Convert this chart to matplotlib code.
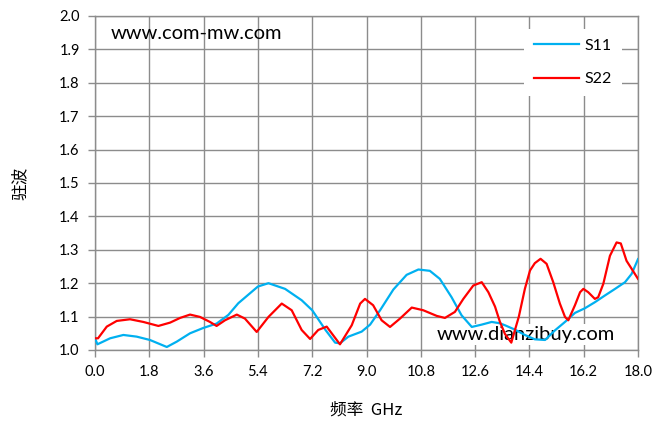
import matplotlib.pyplot as plt

# S11 readings (frequency GHz, VSWR)
s11_freq = [0.0, 0.08, 0.5, 0.94, 1.38, 1.82, 2.38, 2.71, 3.15, 3.59, 4.03, 4.42,
            4.75, 5.4, 5.75, 6.3, 6.85, 7.2, 7.64, 7.96, 8.12, 8.4, 8.84, 9.12,
            9.45, 9.89, 10.33, 10.72, 11.1, 11.43, 11.82, 12.15, 12.49, 12.82,
            13.15, 13.42, 13.59, 13.92, 14.25, 14.58, 14.92, 15.25, 15.58, 15.91,
            16.24, 16.57, 16.9, 17.24, 17.57, 17.79, 18.0]
s11_vswr = [1.035, 1.017, 1.035, 1.045, 1.04, 1.03, 1.009, 1.025, 1.05, 1.066, 1.079, 1.105,
            1.14, 1.19, 1.2, 1.183, 1.149, 1.119, 1.06, 1.022, 1.02, 1.04, 1.055, 1.076,
            1.119, 1.181, 1.225, 1.241, 1.237, 1.213, 1.158, 1.104, 1.069, 1.076,
            1.084, 1.08, 1.074, 1.061, 1.045, 1.032, 1.03, 1.059, 1.084, 1.111,
            1.125, 1.143, 1.163, 1.183, 1.203, 1.228, 1.272]

# S22 readings
s22_freq = [0.0, 0.1, 0.39, 0.72, 1.16, 1.6, 2.1, 2.49, 2.82, 3.15, 3.48, 3.81, 4.03,
            4.31, 4.7, 4.97, 5.36, 5.75, 6.19, 6.52, 6.85, 7.13, 7.4, 7.68, 8.12,
            8.51, 8.79, 8.95, 9.22, 9.5, 9.78, 10.11, 10.5, 10.88, 11.33, 11.6,
            11.93, 12.21, 12.54, 12.82, 13.04, 13.26, 13.42, 13.59, 13.8, 14.05,
            14.25, 14.42, 14.58, 14.77, 14.97, 15.19, 15.41, 15.58, 15.69, 15.91,
            16.08, 16.19, 16.35, 16.57, 16.68, 16.85, 17.07, 17.29, 17.43, 17.62,
            17.79, 18.0]
s22_vswr = [1.035, 1.035, 1.07, 1.087, 1.092, 1.084, 1.072, 1.082, 1.096, 1.106, 1.099, 1.084, 1.072,
            1.089, 1.106, 1.094, 1.054, 1.099, 1.139, 1.119, 1.06, 1.033, 1.06, 1.07, 1.017,
            1.074, 1.139, 1.153, 1.134, 1.089, 1.069, 1.094, 1.127, 1.119, 1.102, 1.096,
            1.114, 1.153, 1.193, 1.203, 1.173, 1.13, 1.085, 1.048, 1.022, 1.1,
            1.183, 1.238, 1.26, 1.273, 1.258, 1.203, 1.139, 1.099, 1.089, 1.134,
            1.173, 1.183, 1.173, 1.153, 1.158, 1.198, 1.282, 1.322, 1.319, 1.267,
            1.243, 1.213]

x_ticks = [0.0, 1.8, 3.6, 5.4, 7.2, 9.0, 10.8, 12.6, 14.4, 16.2, 18.0]
y_ticks = [1.0, 1.1, 1.2, 1.3, 1.4, 1.5, 1.6, 1.7, 1.8, 1.9, 2.0]

grid_color = "#8c8c8c"
tick_font = "Lato"
cjk_font = ["Noto Sans CJK SC", "DejaVu Sans"]

figure = plt.figure(figsize=(6.58, 4.23), dpi=100)
axis = figure.add_axes([0.1444, 0.1726, 0.8252, 0.7896])

axis.plot(s11_freq, s11_vswr, color="#00b0f0", linewidth=1.6, label="S11", zorder=3)
axis.plot(s22_freq, s22_vswr, color="#ff0000", linewidth=1.6, label="S22", zorder=3)

axis.set_xlim(0, 18)
axis.set_ylim(1.0, 2.0)
axis.set_xticks(x_ticks)
axis.set_xticklabels([f"{v:.1f}" for v in x_ticks], fontfamily=tick_font, fontsize=10.5)
axis.set_yticks(y_ticks)
axis.set_yticklabels([f"{v:.1f}" for v in y_ticks], fontfamily=tick_font, fontsize=10.5)
axis.tick_params(direction="out", length=5, width=1, color=grid_color, pad=6)
axis.grid(True, color=grid_color, linewidth=1.0)
axis.set_axisbelow(True)
for spine in axis.spines.values():
    spine.set_color(grid_color)
    spine.set_linewidth(1.0)

axis.set_xlabel("频率  GHz", family=cjk_font, fontsize=12, labelpad=16)
axis.set_ylabel("驻波", family=cjk_font, fontsize=12, labelpad=22)

axis.text(0.028, 0.949, "www.com-mw.com", transform=axis.transAxes,
          fontfamily=tick_font, fontsize=14.5, va="center", ha="left")
# watermark box sits over the grid but under the curves
axis.text(0.63, 0.045, "www.dianzibuy.com", transform=axis.transAxes,
          fontfamily=tick_font, fontsize=14.5, va="center", ha="left", zorder=2.5,
          bbox=dict(facecolor="white", edgecolor="none", pad=1.5))

legend = axis.legend(loc="upper right", bbox_to_anchor=(0.985, 0.985), frameon=True,
                     fancybox=False, edgecolor="none", facecolor="white", framealpha=1,
                     prop={"family": tick_font, "size": 11.5}, handlelength=2.8,
                     handletextpad=0.4, labelspacing=1.2, borderpad=0.6)

figure.savefig("out.png", dpi=100)
